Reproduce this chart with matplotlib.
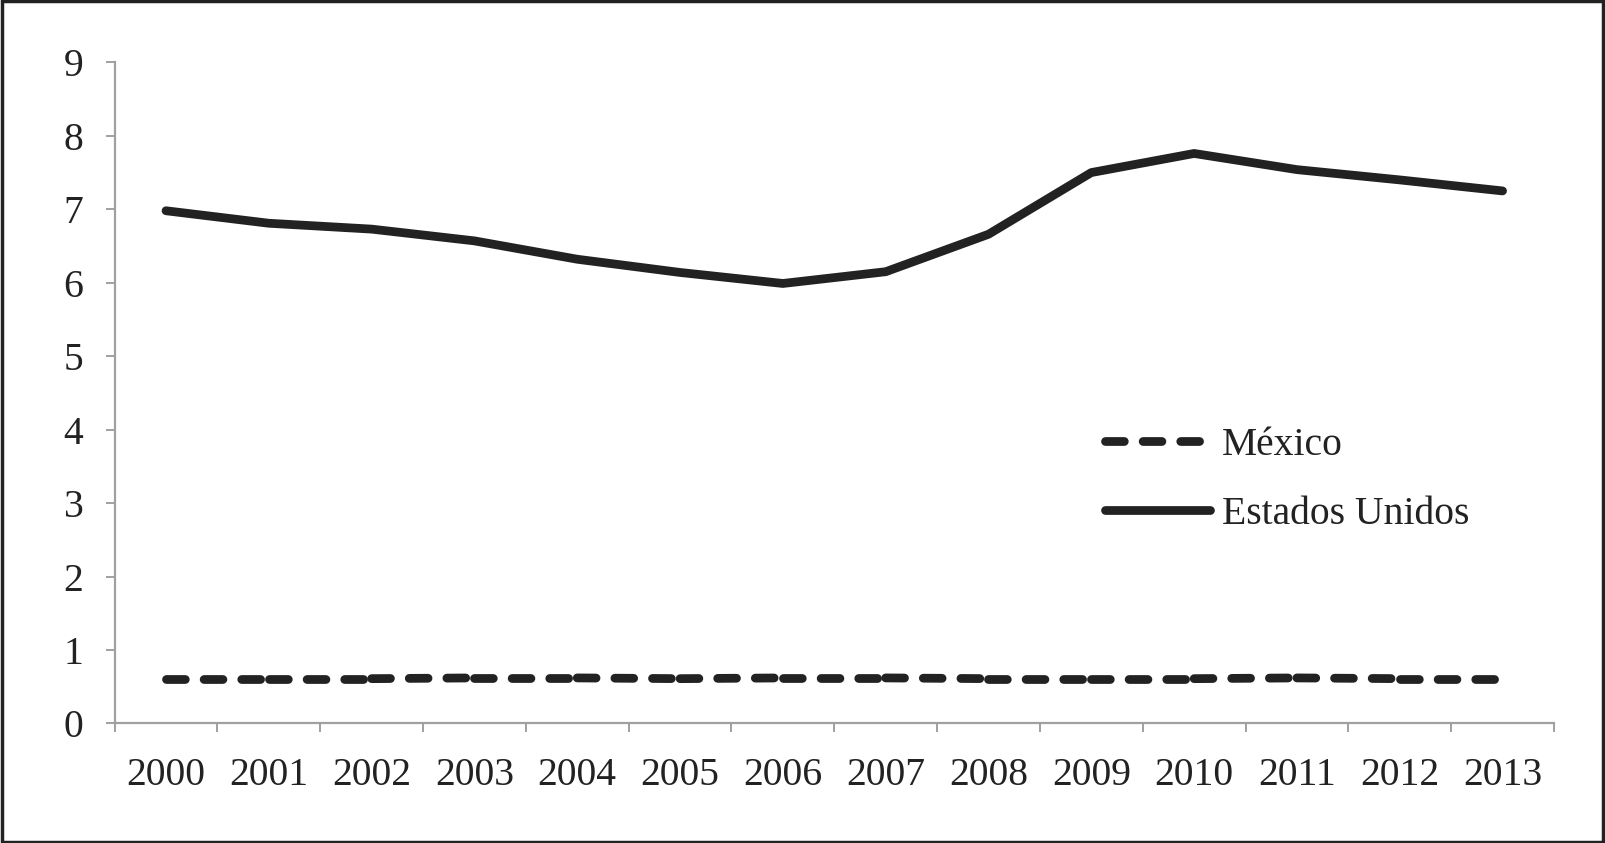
import matplotlib
matplotlib.use("Agg")
import matplotlib.pyplot as plt
from matplotlib.patches import Rectangle

years = ["2000", "2001", "2002", "2003", "2004", "2005", "2006",
         "2007", "2008", "2009", "2010", "2011", "2012", "2013"]
mexico = [0.61, 0.61, 0.61, 0.62, 0.62, 0.61, 0.62,
          0.62, 0.61, 0.61, 0.61, 0.62, 0.61, 0.61]
estados_unidos = [6.98, 6.81, 6.73, 6.57, 6.32, 6.14, 5.99,
                  6.15, 6.66, 7.50, 7.76, 7.54, 7.40, 7.25]
yticks = [0, 1, 2, 3, 4, 5, 6, 7, 8, 9]

plt.rcParams['font.family'] = ['Liberation Serif', 'DejaVu Serif']
ink = '#222222'
axis_grey = '#a0a0a0'
fs = 28.5

fig = plt.figure(figsize=(16.05, 8.43), dpi=100)
ax = fig.add_axes([0.0714, 0.1418, 0.8968, 0.7842])

x = list(range(len(years)))
lw = 6.3

# Mexico dashed line: pattern restarts on every segment (as in the original)
for i in range(len(x) - 1):
    ax.plot(x[i:i + 2], mexico[i:i + 2], color=ink, lw=lw,
            dashes=(2.15, 2.15), dash_capstyle='round',
            label='México' if i == 0 else None)

ax.plot(x, estados_unidos, color=ink, lw=lw, solid_capstyle='round',
        solid_joinstyle='round', label='Estados Unidos')

ax.set_xlim(-0.5, len(years) - 0.5)
ax.set_ylim(0, 9)
ax.set_yticks(yticks)
ax.set_yticklabels([str(v) for v in yticks])
ax.set_xticks(x)
ax.set_xticklabels(years)
ax.set_xticks([v - 0.5 for v in range(len(years) + 1)], minor=True)

for s in ['top', 'right']:
    ax.spines[s].set_visible(False)
for s in ['left', 'bottom']:
    ax.spines[s].set_color(axis_grey)
    ax.spines[s].set_linewidth(1.6)

ax.tick_params(axis='y', which='major', length=6.5, width=1.4, color=axis_grey,
               labelsize=fs, labelcolor=ink, pad=16)
ax.tick_params(axis='x', which='major', length=0, labelsize=fs,
               labelcolor=ink, pad=24)
ax.tick_params(axis='x', which='minor', length=6.8, width=1.4, color=axis_grey)

leg = ax.legend(loc='center left', bbox_to_anchor=(0.688, 0.368),
                frameon=False, fontsize=fs, handlelength=2.65,
                handletextpad=0.3, labelspacing=0.8, borderpad=0,
                borderaxespad=0)
for t in leg.get_texts():
    t.set_color(ink)

fig.patches.append(Rectangle((0.001, 0.0015), 0.998, 0.997, transform=fig.transFigure,
                             fill=False, edgecolor=ink, linewidth=2.5))

fig.savefig('out.png', dpi=100)
